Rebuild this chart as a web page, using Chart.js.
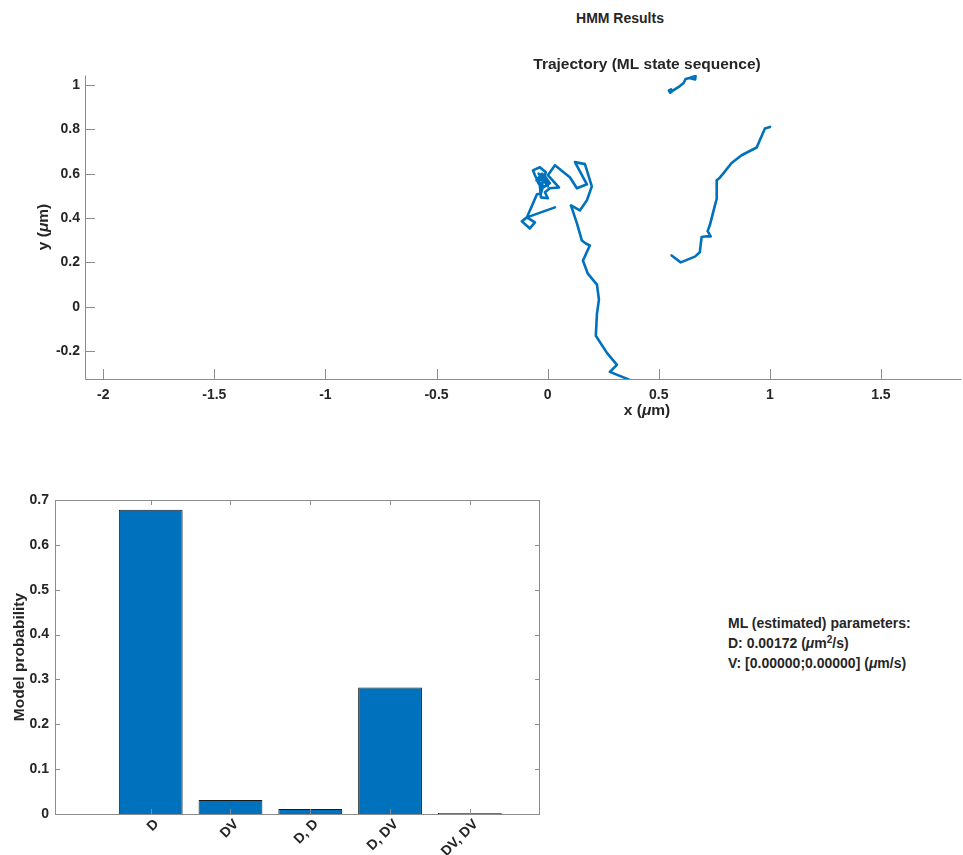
<!DOCTYPE html>
<html><head><meta charset="utf-8">
<script src="https://cdn.jsdelivr.net/npm/chart.js@4/dist/chart.umd.min.js"></script>
<style>
html,body{margin:0;padding:0;background:#fff;}
body{width:963px;height:855px;position:relative;overflow:hidden;font-family:"Liberation Sans",Arial,sans-serif;color:#262626;}
#c1{position:absolute;left:0;top:0;width:963px;height:440px;}
#c2{position:absolute;left:0;top:440px;width:560px;height:415px;}
.sg{position:absolute;left:520px;width:200px;top:8px;text-align:center;font-weight:bold;font-size:14px;line-height:20px;}
.params{position:absolute;left:728px;top:613px;font-weight:bold;font-size:14px;line-height:20px;white-space:nowrap;}
.params sup{font-size:10px;line-height:0;vertical-align:5px;}
</style></head><body>
<div class="sg">HMM Results</div>
<canvas id="c1" width="963" height="440"></canvas>
<canvas id="c2" width="560" height="415"></canvas>
<div class="params">ML (estimated) parameters:<br>D: 0.00172 (<i>μ</i>m<sup>2</sup>/s)<br>V: [0.00000;0.00000] (<i>μ</i>m/s)</div>
<script>
// ---- Trajectory (ML state sequence), x/y in µm ----
const mainX = [0.370,0.280,0.312,0.267,0.217,0.222,0.231,0.222,0.181,0.159,0.190,0.172,0.154,0.132,0.105,0.145,0.177,0.199,0.168,0.123,0.177,0.132,0.100,0.033,0.001,0.051,0.010,
  -0.012,0.001,-0.030,-0.035,-0.057,-0.066,-0.035,-0.008,-0.021,-0.044,-0.012,0.010,-0.026,-0.044,-0.017,0.001,-0.040,-0.010,-0.030,0.000,-0.025,-0.050,-0.020,-0.030,-0.048,-0.093,-0.116,-0.080,-0.057,-0.093,0.033];
const mainY = [-0.330,-0.294,-0.262,-0.208,-0.131,-0.032,0.032,0.100,0.149,0.208,0.276,0.285,0.299,0.376,0.457,0.434,0.480,0.543,0.643,0.652,0.552,0.534,0.584,0.638,0.593,0.538,0.534,
  0.516,0.489,0.493,0.548,0.593,0.615,0.629,0.606,0.570,0.579,0.588,0.557,0.534,0.561,0.588,0.543,0.600,0.575,0.555,0.570,0.600,0.570,0.545,0.511,0.507,0.403,0.385,0.353,0.380,0.403,0.448];
const rightX = [0.558,0.599,0.663,0.685,0.693,0.716,0.734,0.720,0.730,0.753,0.761,0.761,0.775,0.790,0.828,0.873,0.941,0.955,0.978,1.001];
const rightY = [0.231,0.200,0.226,0.246,0.314,0.318,0.317,0.341,0.367,0.457,0.487,0.570,0.582,0.600,0.648,0.683,0.718,0.751,0.804,0.811];
const topX = [0.556,0.546,0.552,0.560,0.590,0.612,0.621,0.639,0.666,0.664,0.642];
const topY = [0.980,0.975,0.965,0.972,0.991,1.009,1.027,1.032,1.041,1.025,1.030];
const trajXTicks = [-2,-1.5,-1,-0.5,0,0.5,1,1.5];
const trajYTicks = [-0.2,0,0.2,0.4,0.6,0.8,1];

// ---- Model probabilities ----
const models = ['D','DV','D, D','D, DV','DV, DV'];
const modelPos = [1,2,3,4,5];
const modelProb = [0.678,0.031,0.011,0.282,0.002];
const probTicks = [0,0.1,0.2,0.3,0.4,0.5,0.6,0.7];

const FONT = "'Liberation Sans', Arial, sans-serif";
const TEXT = '#262626';
const AXIS = '#8c8c8c';
const BLUE = '#0072BD';

function pts(xs, ys){ return xs.map((x,i)=>({x:x, y:ys[i]})); }

// draw text pieces [text, italic] centred at (x,y), optionally rotated
function mixedText(ctx, parts, x, y, size, rot){
  ctx.save();
  ctx.translate(x, y); ctx.rotate(rot || 0);
  ctx.fillStyle = TEXT; ctx.textBaseline = 'middle'; ctx.textAlign = 'left';
  const fonts = parts.map(p => (p[1] ? 'italic ' : '') + 'bold ' + size + 'px ' + FONT);
  let w = 0; const ws = parts.map((p,i) => { ctx.font = fonts[i]; const m = ctx.measureText(p[0]).width; w += m; return m; });
  let cx = -w/2;
  parts.forEach((p,i) => { ctx.font = fonts[i]; ctx.fillText(p[0], cx, 0); cx += ws[i]; });
  ctx.restore();
}

const inTicks = {
  id:'inTicks',
  afterDatasetsDraw(chart, args, opts){
    const ctx = chart.ctx, a = chart.chartArea, L = opts.len;
    const xs = chart.scales.x, ys = chart.scales.y;
    ctx.save();
    ctx.strokeStyle = opts.color; ctx.lineWidth = 1;
    ctx.beginPath();
    xs.ticks.forEach(t => {
      const p = Math.round(xs.getPixelForValue(t.value)) + 0.5;
      ctx.moveTo(p, a.bottom); ctx.lineTo(p, a.bottom - L);
      if (opts.box){ ctx.moveTo(p, a.top); ctx.lineTo(p, a.top + L); }
    });
    ys.ticks.forEach(t => {
      const p = Math.round(ys.getPixelForValue(t.value)) + 0.5;
      ctx.moveTo(a.left, p); ctx.lineTo(a.left + L, p);
      if (opts.box){ ctx.moveTo(a.right, p); ctx.lineTo(a.right - L, p); }
    });
    const l = Math.round(a.left)+0.5, r = Math.round(a.right)-0.5, tp = Math.round(a.top)+0.5, b = Math.round(a.bottom)+0.5;
    ctx.moveTo(l, tp); ctx.lineTo(l, b); ctx.lineTo(r, b);
    if (opts.box){ ctx.lineTo(r, tp); ctx.lineTo(l, tp); }
    ctx.stroke();
    ctx.restore();
  }
};

const trajTitles = {
  id:'trajTitles',
  afterDraw(chart){
    const ctx = chart.ctx;
    mixedText(ctx, [['Trajectory (ML state sequence)', false]], 647, 65, 15.5, 0);
    mixedText(ctx, [['x (', false], ['μ', true], ['m)', false]], 647, 411, 15.5, 0);
    mixedText(ctx, [['y (', false], ['μ', true], ['m)', false]], 44, 227, 15.5, -Math.PI/2);
  }
};

const tickFont = {family:FONT, size:14, weight:'bold'};
const lineDs = (xs, ys) => ({data:pts(xs,ys), showLine:true, borderColor:BLUE, backgroundColor:BLUE, borderWidth:2.6, pointRadius:0, tension:0, borderJoinStyle:'round', borderCapStyle:'round'});

new Chart(document.getElementById('c1'), {
  type:'scatter',
  data:{datasets:[lineDs(mainX,mainY), lineDs(rightX,rightY), lineDs(topX,topY)]},
  options:{
    responsive:false, animation:false, devicePixelRatio:1,
    layout:{padding:{top:75,right:1,left:0,bottom:0}},
    plugins:{legend:{display:false}, tooltip:{enabled:false}, inTicks:{len:10, box:false, color:AXIS}},
    scales:{
      x:{type:'linear', min:-2.082, max:1.865,
        grid:{display:false, drawTicks:false}, border:{display:false},
        afterBuildTicks: s => { s.ticks = trajXTicks.map(v=>({value:v})); },
        afterFit: s => { s.height = 61; },
        ticks:{autoSkip:false, maxRotation:0, padding:8, color:TEXT, font:tickFont, callback: v => String(v)}},
      y:{type:'linear', min:-0.326, max:1.045,
        grid:{display:false, drawTicks:false}, border:{display:false},
        afterBuildTicks: s => { s.ticks = trajYTicks.map(v=>({value:v})); },
        afterFit: s => { s.width = 85; },
        ticks:{autoSkip:false, padding:5, color:TEXT, font:tickFont, callback: v => String(v)}}
    }
  },
  plugins:[inTicks, trajTitles]
});

new Chart(document.getElementById('c2'), {
  type:'bar',
  data:{datasets:[{data:pts(modelPos, modelProb), backgroundColor:BLUE, borderColor:'#1a1a1a', borderWidth:1, barPercentage:0.8, categoryPercentage:1}]},
  options:{
    responsive:false, animation:false, devicePixelRatio:1,
    layout:{padding:{top:60,right:20,left:0,bottom:0}},
    plugins:{legend:{display:false}, tooltip:{enabled:false}, inTicks:{len:5, box:true, color:AXIS}},
    scales:{
      x:{type:'linear', min:-0.2, max:5.88, offset:false,
        grid:{display:false, drawTicks:false, offset:false}, border:{display:false},
        afterBuildTicks: s => { s.ticks = modelPos.map(v=>({value:v})); },
        afterFit: s => { s.height = 41; },
        ticks:{autoSkip:false, minRotation:45, maxRotation:45, padding:2, labelOffset:6, color:TEXT, font:tickFont,
          callback: v => { const i = modelPos.indexOf(v); return i >= 0 ? models[i] : ''; }}},
      y:{type:'linear', min:0, max:0.7,
        grid:{display:false, drawTicks:false}, border:{display:false},
        afterBuildTicks: s => { s.ticks = probTicks.map(v=>({value:v})); },
        afterFit: s => { s.width = 55; },
        ticks:{autoSkip:false, padding:6, color:TEXT, font:tickFont, callback: v => String(v)},
        title:{display:true, text:'Model probability', color:TEXT, font:{family:FONT, size:15.5, weight:'bold'}, padding:{top:10,bottom:0}}}
    }
  },
  plugins:[inTicks]
});
</script>
</body></html>
